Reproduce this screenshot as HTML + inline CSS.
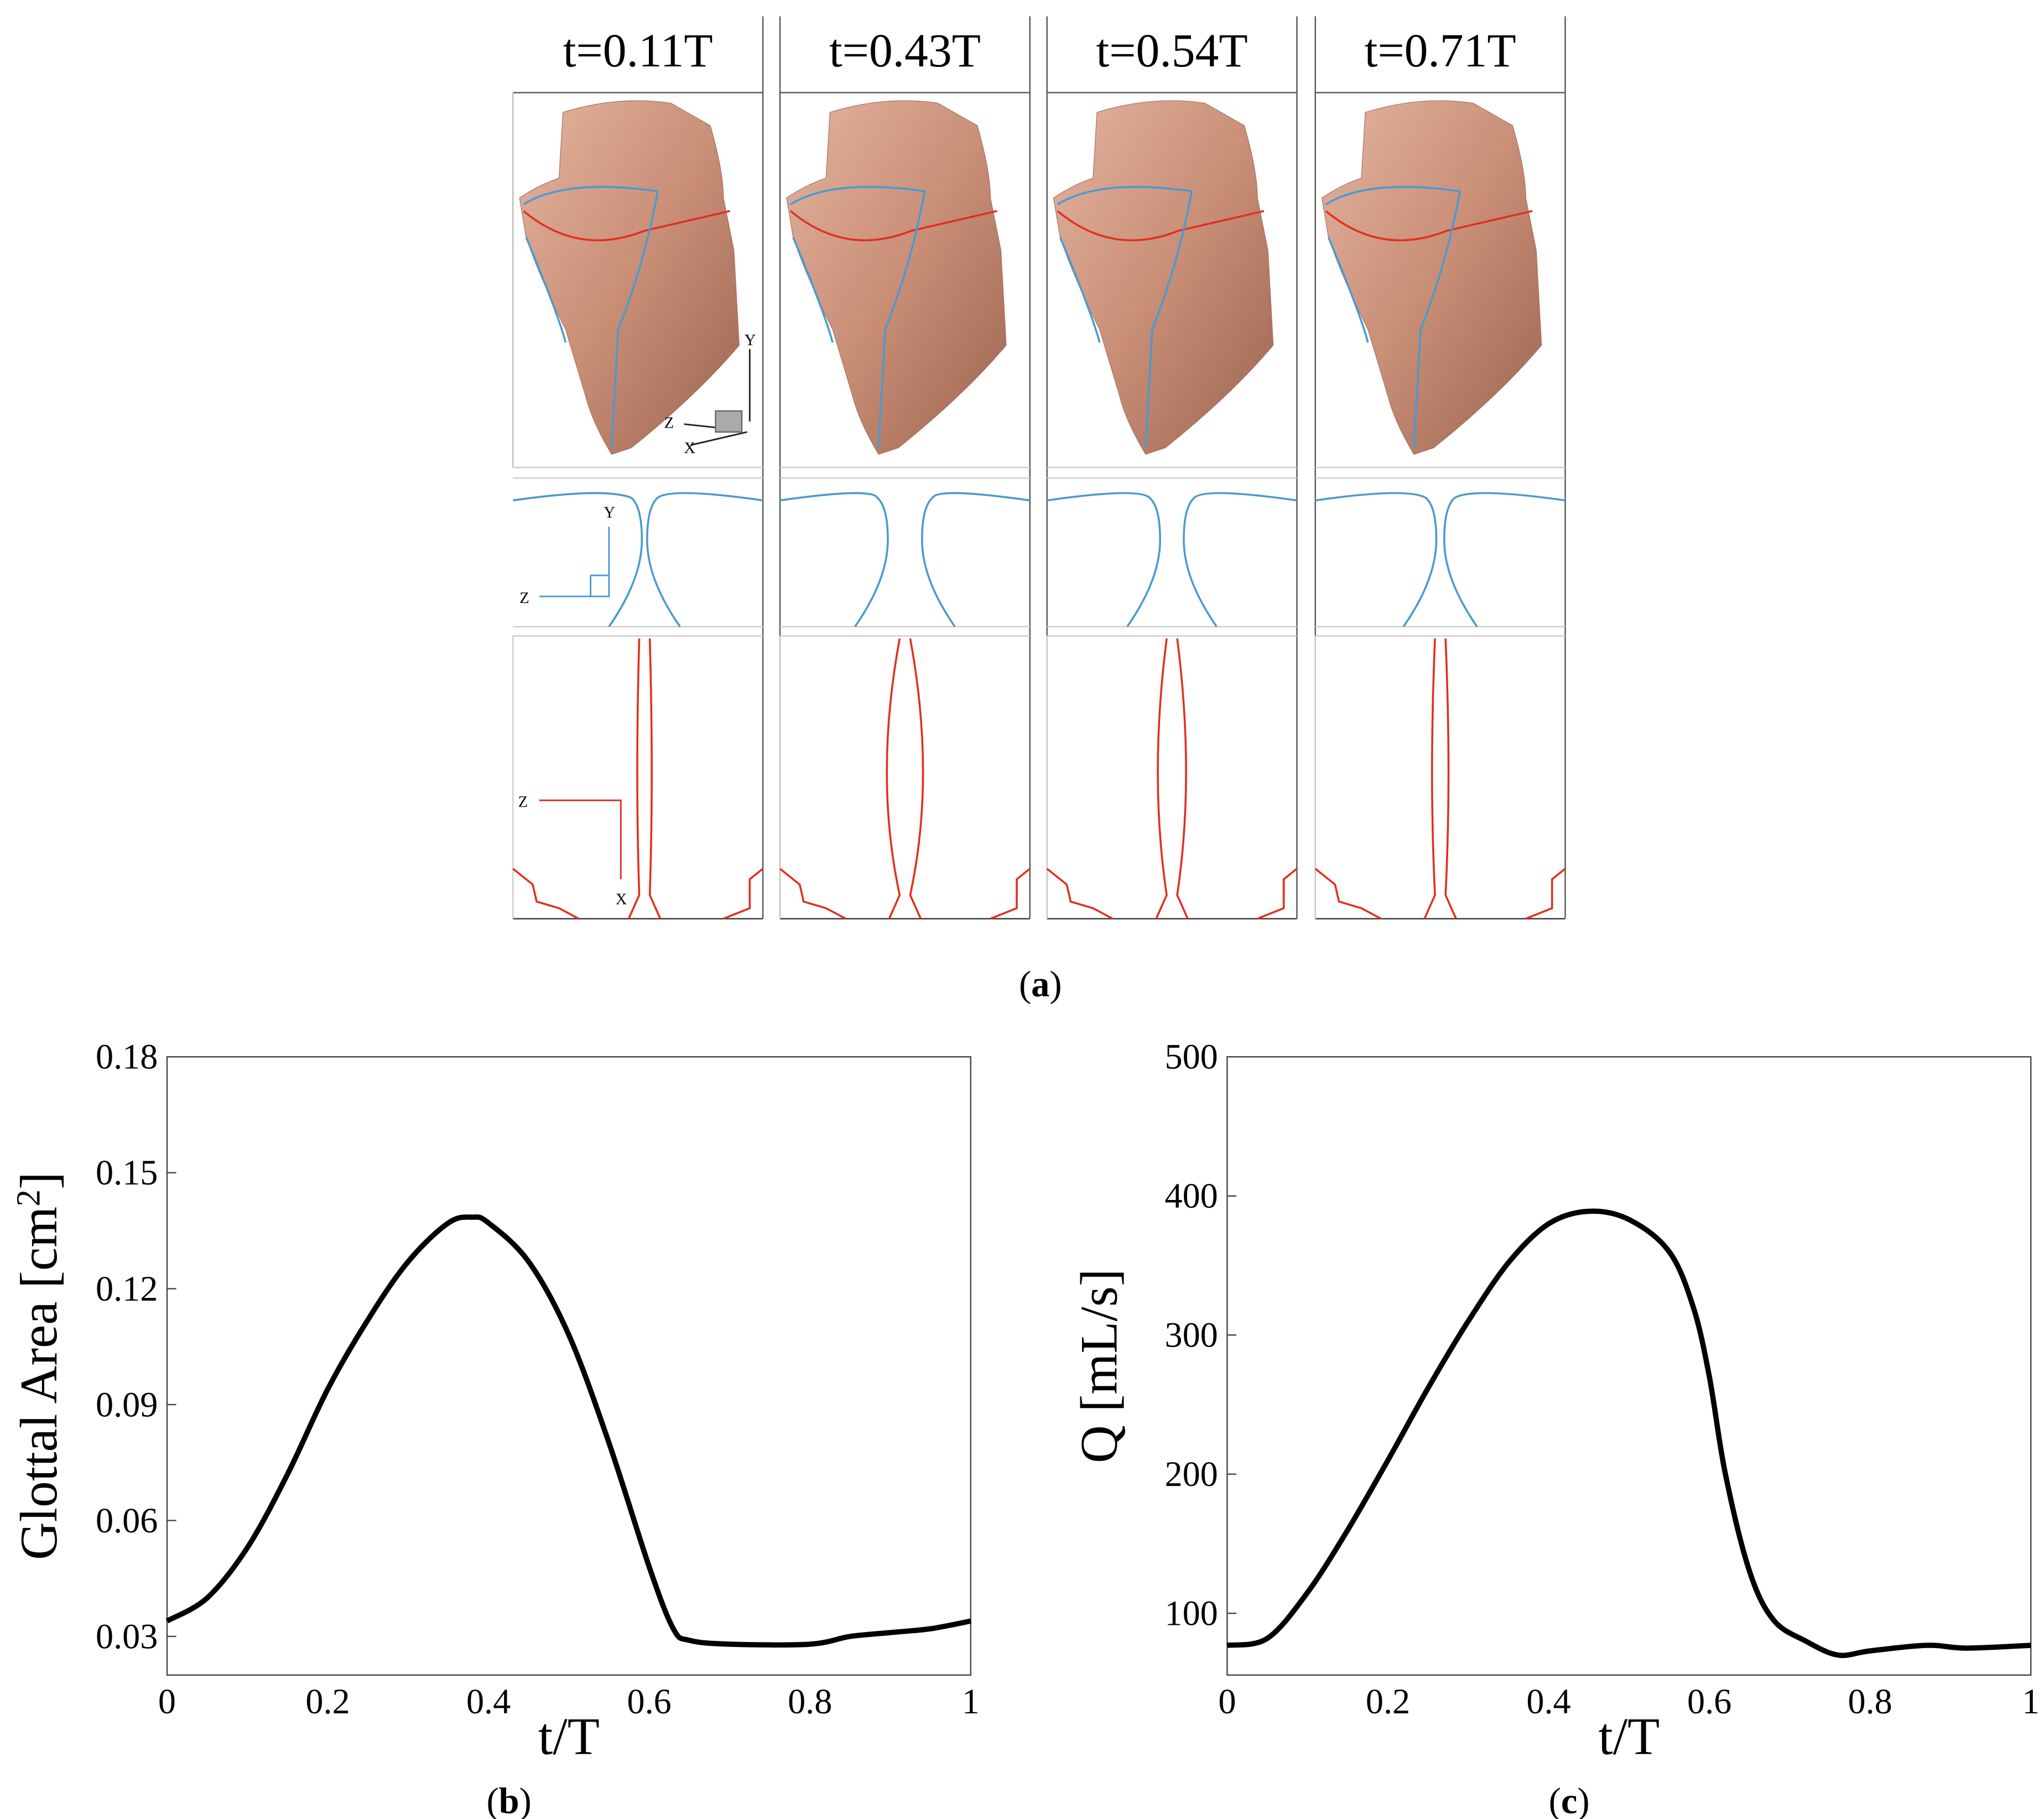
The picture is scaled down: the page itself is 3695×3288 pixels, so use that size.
<!DOCTYPE html>
<html><head><meta charset="utf-8"><style>
html,body{margin:0;padding:0;background:#fff;}
svg{display:block;}
text{font-family:"Liberation Serif",serif;fill:#000;}
</style></head><body>
<svg id="fig" width="3695" height="3288" viewBox="0 0 1554 1382" xmlns="http://www.w3.org/2000/svg">
<defs>
<linearGradient id="skin" x1="0" y1="0" x2="1" y2="1">
<stop offset="0" stop-color="#e2b4a0"/><stop offset="0.5" stop-color="#c98e76"/><stop offset="1" stop-color="#9c6450"/>
</linearGradient>
</defs>
<g id="panelA"></g>
<text x="791" y="757" font-size="28" text-anchor="middle">(<tspan font-weight="bold">a</tspan>)</text>
<g id="chartB"></g>
<g id="chartC"></g>
<text x="387" y="1378" font-size="28" text-anchor="middle">(<tspan font-weight="bold">b</tspan>)</text>
<text x="1193" y="1378" font-size="28" text-anchor="middle">(<tspan font-weight="bold">c</tspan>)</text>
</svg>
<script>
const NS="http://www.w3.org/2000/svg";
// ---- chart data ----
const timesB=[0,0.05,0.1,0.15,0.2,0.25,0.3,0.35,0.38,0.4,0.45,0.5,0.55,0.6,0.63,0.65,0.7,0.8,0.85,0.9,0.95,1];
const areaB=[0.034,0.040,0.053,0.072,0.094,0.112,0.127,0.137,0.1385,0.137,0.127,0.108,0.080,0.048,0.032,0.029,0.028,0.028,0.030,0.031,0.032,0.034];
const timesC=[0,0.05,0.1,0.15,0.2,0.25,0.3,0.35,0.4,0.45,0.5,0.55,0.58,0.6,0.62,0.65,0.68,0.72,0.76,0.8,0.87,0.92,1];
const flowC=[77,82,115,160,210,262,310,352,380,389,383,360,320,270,200,130,95,80,70,73,77,75,77];
const xTicks=[0,0.2,0.4,0.6,0.8,1];
const xTickLabels=["0","0.2","0.4","0.6","0.8","1"];
const yTicksB=[0.03,0.06,0.09,0.12,0.15,0.18];
const yTickLabelsB=["0.03","0.06","0.09","0.12","0.15","0.18"];
const yTicksC=[100,200,300,400,500];
const yTickLabelsC=["100","200","300","400","500"];
const headers=["t=0.11T","t=0.43T","t=0.54T","t=0.71T"];

function el(tag,attrs,parent,txt){const e=document.createElementNS(NS,tag);for(const k in attrs)e.setAttribute(k,attrs[k]);if(txt!==undefined)e.textContent=txt;parent.appendChild(e);return e;}

function smooth(pts){
  let d='M'+pts[0][0].toFixed(1)+' '+pts[0][1].toFixed(1);
  for(let i=0;i<pts.length-1;i++){
    const p0=pts[Math.max(0,i-1)],p1=pts[i],p2=pts[i+1],p3=pts[Math.min(pts.length-1,i+2)];
    const c1x=p1[0]+(p2[0]-p0[0])/6,c1y=p1[1]+(p2[1]-p0[1])/6;
    const c2x=p2[0]-(p3[0]-p1[0])/6,c2y=p2[1]-(p3[1]-p1[1])/6;
    d+=`C${c1x.toFixed(1)} ${c1y.toFixed(1)} ${c2x.toFixed(1)} ${c2y.toFixed(1)} ${p2[0].toFixed(1)} ${p2[1].toFixed(1)}`;
  }
  return d;
}

function chart(g,box,xd,yd,xs,ys,ticksY,labY,ticksX,labX,ytitle){
  const sx=v=>box.x+(v-xd[0])/(xd[1]-xd[0])*box.w;
  const sy=v=>box.y+box.h-(v-yd[0])/(yd[1]-yd[0])*box.h;
  const r=el('rect',{x:box.x,y:box.y,width:box.w,height:box.h,fill:'none',stroke:'#444','stroke-width':1},g);
  
  
  ticksX.forEach((t,i)=>{
    const tx=el('text',{x:sx(t),y:box.y+box.h+29,'font-size':27,'text-anchor':'middle'},g,labX[i]);
    
    
  });
  ticksY.forEach((t,i)=>{
    el('line',{x1:box.x,x2:box.x+7,y1:sy(t),y2:sy(t),stroke:'#444'},g);
    const ty=el('text',{x:box.x-7,y:sy(t)+9,'font-size':27,'text-anchor':'end'},g,labY[i]);
    
    
  });
  const xt=el('text',{x:box.x+box.w/2,y:box.y+box.h+60,'font-size':40,'text-anchor':'middle'},g,'t/T');
  
  
  const cx=box.x-84,cy=box.y+box.h/2;
  const yt=el('text',{x:cx,y:cy,'font-size':40,'text-anchor':'middle',transform:`rotate(-90 ${cx} ${cy})`},g);
  yt.innerHTML=ytitle;
  
  
  const pts=xs.map((x,i)=>[sx(x),sy(ys[i])]);
  const p=el('path',{d:smooth(pts),fill:'none',stroke:'#000','stroke-width':4,'stroke-linejoin':'round'},g);
  
  
}
chart(document.getElementById('chartB'),{x:127,y:803,w:611,h:470},[0,1],[0.02,0.18],timesB,areaB,yTicksB,yTickLabelsB,xTicks,xTickLabels,'Glottal Area [cm<tspan dy="-13" font-size="26">2</tspan><tspan dy="13">]</tspan>');
chart(document.getElementById('chartC'),{x:933,y:803,w:611,h:470},[0,1],[55.6,500],timesC,flowC,yTicksC,yTickLabelsC,xTicks,xTickLabels,'Q [mL/s]');

// ---- panel (a) illustration ----
const A=document.getElementById('panelA');
const cols=[390,593,796,1000];
const gaps=[0,0.55,0.35,0.05];
cols.forEach((x0,i)=>{
  const w=190;
  const g=el('g',{},A);
  
  
  const h=el('text',{x:x0+w/2,y:50,'font-size':36,'text-anchor':'middle'},g,headers[i]);
  
  
  el('line',{x1:x0,x2:x0+w,y1:70,y2:70,stroke:'#555'},g);
  el('line',{x1:x0,x2:x0+w,y1:698,y2:698,stroke:'#333'},g);
  el('line',{x1:x0,x2:x0,y1:70,y2:355,stroke:'#bbb'},g);
  el('line',{x1:x0+w,x2:x0+w,y1:12,y2:698,stroke:'#555'},g);
  if(i>0) el('line',{x1:x0,x2:x0,y1:12,y2:698,stroke:'#555'},g);
  el('line',{x1:x0,x2:x0+w,y1:355,y2:355,stroke:'#ccc'},g);
  el('line',{x1:x0,x2:x0+w,y1:363,y2:363,stroke:'#ccc'},g);
  el('line',{x1:x0,x2:x0+w,y1:476,y2:476,stroke:'#ccc'},g);
  el('line',{x1:x0,x2:x0+w,y1:483,y2:483,stroke:'#ccc'},g);
  el('line',{x1:x0,x2:x0,y1:483,y2:698,stroke:'#ccc'},g);
  const s=el('path',{d:`M${x0+38} 85 Q${x0+80} 72 ${x0+120} 78 L${x0+150} 95 Q${x0+160} 130 ${x0+160} 150 L${x0+168} 190 L${x0+172} 262 Q${x0+140} 300 ${x0+90} 340 L${x0+75} 345 Q${x0+60} 320 ${x0+55} 300 L${x0+40} 250 Q${x0+20} 210 ${x0+10} 180 L${x0+5} 150 Q${x0+20} 140 ${x0+35} 135 Z`,fill:'url(#skin)',stroke:'#a87060','stroke-width':0.5},g);
  
  
  el('path',{d:`M${x0+8} 160 Q${x0+50} 195 ${x0+100} 175 L${x0+165} 160`,fill:'none',stroke:'#e03020','stroke-width':1.5},g);
  el('path',{d:`M${x0+8} 155 Q${x0+40} 135 ${x0+110} 145 Q${x0+100} 200 ${x0+80} 250 L${x0+75} 340 M${x0+10} 180 Q${x0+35} 240 ${x0+40} 260`,fill:'none',stroke:'#4a9ad0','stroke-width':1.5},g);
  const c=x0+w/2+(i==0?5:0), gw=gaps[i]*20+2;
  el('path',{d:`M${x0} 380 Q${x0+70} 370 ${c-gw-8} 378 Q${c-gw} 385 ${c-gw} 410 Q${c-gw} 440 ${c-gw-25} 476 M${x0+w} 380 Q${x0+w-70} 370 ${c+gw+8} 378 Q${c+gw} 385 ${c+gw} 410 Q${c+gw} 440 ${c+gw+25} 476`,fill:'none',stroke:'#4a9ad0','stroke-width':1.5},g);
  el('path',{d:`M${c-4} 485 Q${c-gw*1.5-4} 590 ${c-4} 680 L${c-12} 698 M${c+4} 485 Q${c+gw*1.5+4} 590 ${c+4} 680 L${c+12} 698 M${x0} 660 L${x0+15} 672 L${x0+18} 685 L${x0+35} 690 L${x0+50} 698 M${x0+w} 660 L${x0+w-10} 668 L${x0+w-10} 690 L${x0+w-30} 698`,fill:'none',stroke:'#e03020','stroke-width':1.5},g);
});
el('path',{d:'M570 265 L570 320 M520 322 L548 325 M525 338 L568 328',fill:'none',stroke:'#222','stroke-width':1.2},A);
el('rect',{x:544,y:312,width:20,height:16,fill:'#aaa',stroke:'#666'},A);
el('text',{x:566,y:262,'font-size':12,'font-family':'Liberation Sans'},A,'Y');
el('text',{x:505,y:325,'font-size':12,'font-family':'Liberation Sans'},A,'Z');
el('text',{x:520,y:344,'font-size':12,'font-family':'Liberation Sans'},A,'X');
el('path',{d:'M463 400 L463 453 L410 453 M449 437 L463 437 M449 437 L449 453',fill:'none',stroke:'#4a9ad0','stroke-width':1.2},A);
el('text',{x:459,y:393,'font-size':12,fill:'#4a9ad0','font-family':'Liberation Sans'},A,'Y');
el('text',{x:395,y:458,'font-size':12,fill:'#4a9ad0','font-family':'Liberation Sans'},A,'Z');
el('path',{d:'M410 608 L472 608 L472 668',fill:'none',stroke:'#e03020','stroke-width':1.2},A);
el('text',{x:394,y:613,'font-size':12,fill:'#e03020','font-family':'Liberation Sans'},A,'Z');
el('text',{x:468,y:687,'font-size':12,fill:'#e03020','font-family':'Liberation Sans'},A,'X');
</script>
</body></html>
